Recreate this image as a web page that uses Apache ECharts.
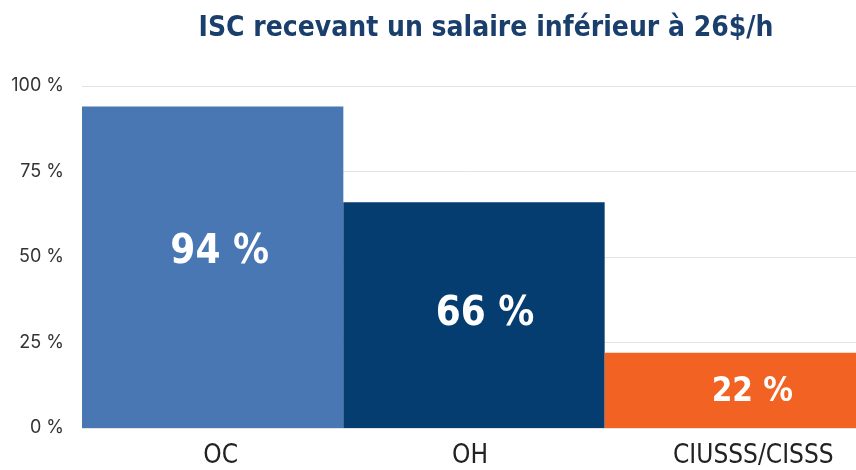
<!DOCTYPE html>
<html>
<head>
<meta charset="utf-8">
<script src="https://cdn.jsdelivr.net/npm/echarts@6/dist/echarts.min.js"></script>
<style>
  html, body { margin: 0; padding: 0; background: #fff; }
  #chart { width: 856px; height: 470px; }
</style>
</head>
<body>
<div id="chart"></div>
<script>
  // données
  var categories = ['OC', 'OH', 'CIUSSS/CISSS'];
  var values = [94, 66, 22];
  var yTicks = [0, 25, 50, 75, 100];

  var barColors = ['#4877b4', '#053d70', '#f26223'];
  var labelSizes = [40, 40, 33];
  var labelOffsets = [[7, -15], [11, -1], [17, 2]];
  var catShift = [8, -4, 18]; // décalage horizontal des libellés de l'axe
  var narrow = '"DejaVu Sans Condensed", "Roboto", sans-serif';

  var catRich = {};
  catShift.forEach(function (dx, i) {
    catRich['c' + i] = {
      fontFamily: narrow,
      fontSize: 26,
      color: '#222',
      padding: dx >= 0 ? [0, 0, 0, 2 * dx] : [0, -2 * dx, 0, 0],
    };
  });

  var option = {
    animation: false,
    title: {
      text: 'ISC recevant un salaire inférieur à 26$/h',
      left: 481,
      top: 10,
      textAlign: 'center',
      textStyle: {
        fontFamily: narrow,
        fontWeight: 'bold',
        fontSize: 28,
        color: '#1b3f6d',
      },
    },
    grid: {
      left: 82,
      width: 784,
      top: 86,
      bottom: 42,
      outerBoundsMode: 'none',
    },
    xAxis: {
      type: 'category',
      data: categories,
      axisLine: { show: false },
      axisTick: { show: false },
      axisLabel: {
        margin: 15,
        formatter: function (v, i) {
          return '{c' + i + '|' + v + '}';
        },
        rich: catRich,
      },
    },
    yAxis: {
      type: 'value',
      min: yTicks[0],
      max: yTicks[yTicks.length - 1],
      interval: 25,
      axisLine: { show: false },
      axisTick: { show: false },
      splitLine: { lineStyle: { color: '#e3e3e3', width: 1 } },
      axisLabel: {
        margin: 18,
        fontFamily: 'Inter, "Noto Sans", sans-serif',
        fontSize: 18,
        color: '#333',
        formatter: function (v) {
          return v + ' %';
        },
      },
    },
    series: [
      {
        type: 'bar',
        barWidth: '100%',
        barCategoryGap: 0,
        data: values.map(function (v, i) {
          return {
            value: v,
            itemStyle: { color: barColors[i] },
            label: { fontSize: labelSizes[i], offset: labelOffsets[i] },
          };
        }),
        label: {
          show: true,
          position: 'inside',
          fontFamily: narrow,
          fontWeight: 'bold',
          color: '#fff',
          formatter: function (p) {
            return p.value + ' %';
          },
        },
      },
    ],
  };

  var chart = echarts.init(document.getElementById('chart'));
  chart.setOption(option);
</script>
</body>
</html>
